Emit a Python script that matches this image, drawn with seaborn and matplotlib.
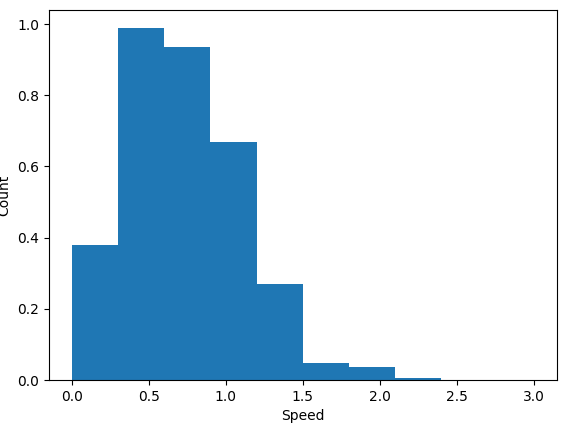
import matplotlib
matplotlib.use('Agg')
import matplotlib.pyplot as plt
import seaborn as sns
import numpy as np

bin_edges = [0.0, 0.3, 0.6, 0.9, 1.2, 1.5, 1.8, 2.1, 2.4, 2.7, 3.0]
heights = [0.38, 0.99, 0.935, 0.67, 0.27, 0.048, 0.038, 0.005, 0.001, 0.001]

centers = [(a + b) / 2 for a, b in zip(bin_edges[:-1], bin_edges[1:])]

fig, ax = plt.subplots(figsize=(5.67, 4.32), dpi=100)
fig.subplots_adjust(left=0.086, right=0.982, top=0.977, bottom=0.12)
sns.histplot(x=centers, weights=heights, bins=bin_edges, stat='count',
             color='#1f77b4', alpha=1, edgecolor='none', linewidth=0, ax=ax)
ax.set_xlabel('Speed')
ax.set_ylabel('Count')
fig.savefig('out.png')
